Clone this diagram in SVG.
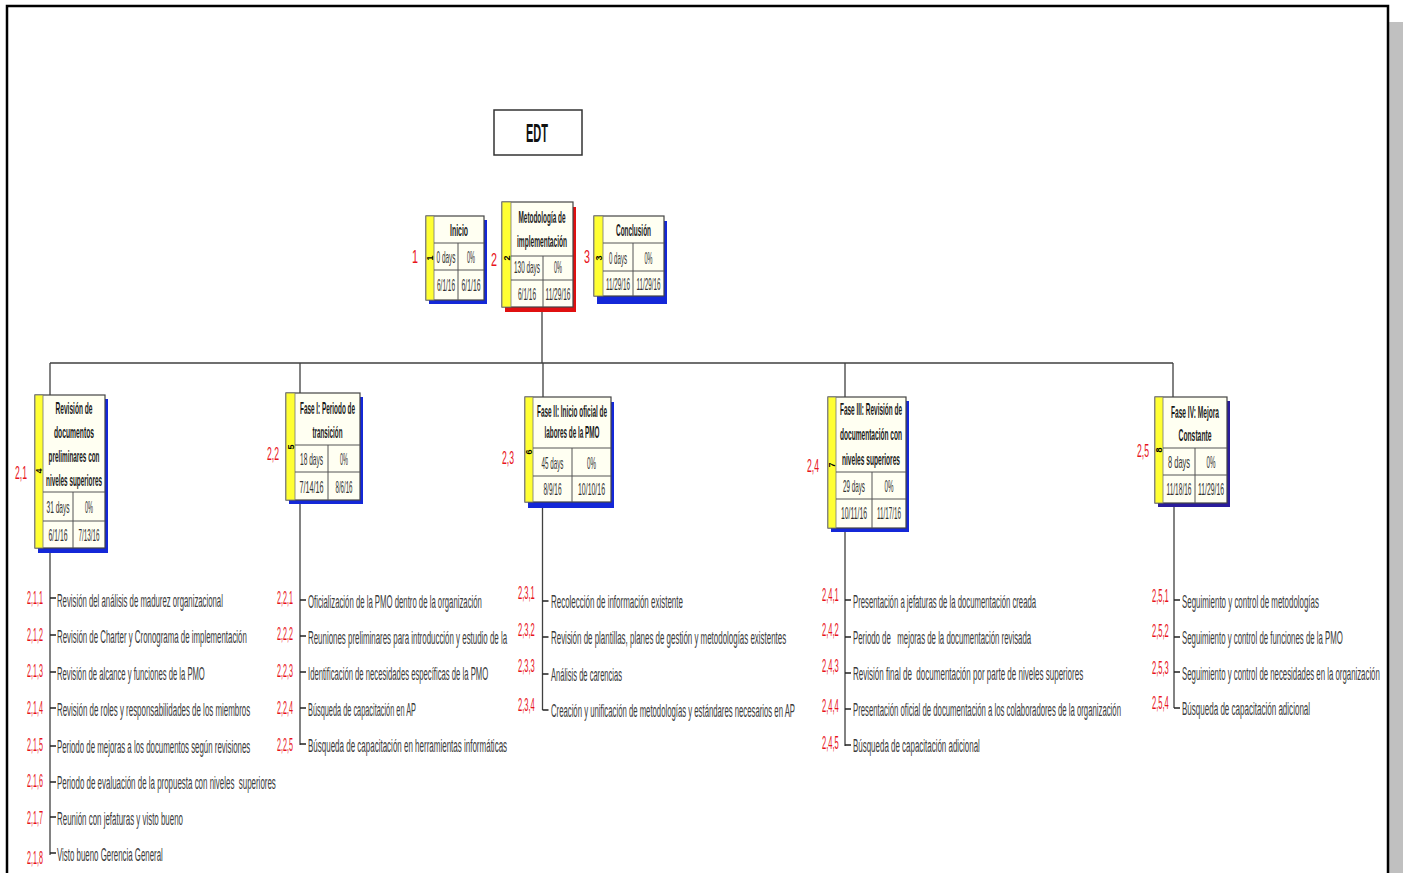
<svg xmlns="http://www.w3.org/2000/svg" width="1403" height="873" viewBox="0 0 1403 873">
<style>
text{font-family:"Liberation Sans",Arial,sans-serif}
.t{font-size:16px;font-weight:bold;fill:#1a1a1a;text-anchor:middle}
.v{font-size:16px;fill:#333;text-anchor:middle}
.id{font-size:9px;font-weight:bold;fill:#000;text-anchor:middle}
.num{font-size:19px;fill:#e8141c;text-anchor:middle}
.lab{font-size:19px;fill:#e8141c}
.it{font-size:19px;fill:#3a3a3a}
.box{fill:#fffff2;stroke:#444;stroke-width:1.2}
.cell{fill:none;stroke:#555;stroke-width:1}
.strip{fill:#ffff33;stroke:#777;stroke-width:0.8}
.sh{fill:#1428d8}
.con{stroke:#404040;stroke-width:1.3;fill:none}
.tick{stroke:#222;stroke-width:1.6}
</style>
<rect x="0" y="0" width="1403" height="873" fill="#fff"/>
<rect x="1389" y="22" width="14" height="851" fill="#c0c0c0"/>
<path d="M7,880 V6 H1388 V880" fill="none" stroke="#000" stroke-width="2.5"/>

<g id="edt">
<rect x="494" y="110" width="88" height="45" fill="#fff" stroke="#333" stroke-width="1.5"/>
<text transform="translate(537,142) scale(0.5,1)" style="font-size:26px;font-weight:bold;fill:#111;text-anchor:middle" textLength="44" lengthAdjust="spacingAndGlyphs">EDT</text>
</g>

<g id="connectors">
<path class="con" d="M542,312 V363 M50,363 H1173 M50,363 V395 M300,363 V393 M543,363 V397 M845,363 V397 M1173,363 V397"/>
<path class="con" d="M50,552 V855 M300,504 V745 M542.5,507 V710 M845,532 V746 M1174,507 V708"/>
<path class="tick" d="M50,598 h6 M50,635 h6 M50,672 h6 M50,708 h6 M50,746 h6 M50,782 h6 M50,817 h6 M50,853 h6"/>
<path class="tick" d="M300,600 h6 M300,636 h6 M300,672 h6 M300,708 h6 M300,744 h6"/>
<path class="tick" d="M542.5,601 h6 M542.5,637 h6 M542.5,674 h6 M542.5,710 h6"/>
<path class="tick" d="M845,600 h6 M845,637 h6 M845,673 h6 M845,709 h6 M845,745 h6"/>
<path class="tick" d="M1174,600 h6 M1174,637 h6 M1174,672 h6 M1174,708 h6"/>
</g>

<g id="n1">
<rect class="sh" x="429" y="220" width="58" height="84"/>
<rect class="box" x="426" y="216" width="58" height="84"/>
<rect class="strip" x="426" y="216" width="8" height="84"/>
<path class="cell" d="M434,243 H484 M434,270 H484 M458,243 V300"/>
<text class="t" transform="translate(459,236) scale(0.5,1)" textLength="36" lengthAdjust="spacingAndGlyphs">Inicio</text>
<text class="v" transform="translate(446,263) scale(0.5,1)" textLength="38" lengthAdjust="spacingAndGlyphs">0 days</text>
<text class="v" transform="translate(471,263) scale(0.5,1)" textLength="16" lengthAdjust="spacingAndGlyphs">0%</text>
<text class="v" transform="translate(446,291) scale(0.5,1)" textLength="36" lengthAdjust="spacingAndGlyphs">6/1/16</text>
<text class="v" transform="translate(471,291) scale(0.5,1)" textLength="38" lengthAdjust="spacingAndGlyphs">6/1/16</text>
<text class="id" transform="translate(433,258) rotate(-90)">1</text>
<text class="num" transform="translate(415,263) scale(0.5,1)" textLength="12" lengthAdjust="spacingAndGlyphs">1</text>
</g>

<g id="n2">
<rect x="505" y="207" width="71" height="105" fill="#e01010"/>
<rect class="box" x="502" y="202" width="71" height="105"/>
<rect class="strip" x="502" y="202" width="9" height="105"/>
<path class="cell" d="M511,256 H573 M511,280 H573 M543,256 V307"/>
<text class="t" transform="translate(542,223) scale(0.5,1)" textLength="94" lengthAdjust="spacingAndGlyphs">Metodología de</text>
<text class="t" transform="translate(542,247) scale(0.5,1)" textLength="100" lengthAdjust="spacingAndGlyphs">implementación</text>
<text class="v" transform="translate(527,273) scale(0.5,1)" textLength="52" lengthAdjust="spacingAndGlyphs">130 days</text>
<text class="v" transform="translate(558,273) scale(0.5,1)" textLength="16" lengthAdjust="spacingAndGlyphs">0%</text>
<text class="v" transform="translate(527,300) scale(0.5,1)" textLength="36" lengthAdjust="spacingAndGlyphs">6/1/16</text>
<text class="v" transform="translate(558,300) scale(0.5,1)" textLength="50" lengthAdjust="spacingAndGlyphs">11/29/16</text>
<text class="id" transform="translate(509.5,258) rotate(-90)">2</text>
<text class="num" transform="translate(494,266) scale(0.5,1)" textLength="12" lengthAdjust="spacingAndGlyphs">2</text>
</g>

<g id="n3">
<rect class="sh" x="597" y="221" width="70" height="83"/>
<rect class="box" x="594" y="216" width="70" height="80"/>
<rect class="strip" x="594" y="216" width="9" height="80"/>
<path class="cell" d="M603,243 H664 M603,271 H664 M633,243 V296"/>
<text class="t" transform="translate(633.5,236) scale(0.5,1)" textLength="70" lengthAdjust="spacingAndGlyphs">Conclusión</text>
<text class="v" transform="translate(618,264) scale(0.5,1)" textLength="36" lengthAdjust="spacingAndGlyphs">0 days</text>
<text class="v" transform="translate(648.5,264) scale(0.5,1)" textLength="16" lengthAdjust="spacingAndGlyphs">0%</text>
<text class="v" transform="translate(618,290) scale(0.5,1)" textLength="48" lengthAdjust="spacingAndGlyphs">11/29/16</text>
<text class="v" transform="translate(648.5,290) scale(0.5,1)" textLength="48" lengthAdjust="spacingAndGlyphs">11/29/16</text>
<text class="id" transform="translate(601.5,258) rotate(-90)">3</text>
<text class="num" transform="translate(587,263) scale(0.5,1)" textLength="12" lengthAdjust="spacingAndGlyphs">3</text>
</g>

<g id="n21">
<rect class="sh" x="38" y="399" width="70" height="154"/>
<rect class="box" x="35" y="395" width="70" height="153"/>
<rect class="strip" x="35" y="395" width="8" height="153"/>
<path class="cell" d="M43,492 H105 M43,521 H105 M73,492 V548"/>
<text class="t" transform="translate(74,414) scale(0.5,1)" textLength="74" lengthAdjust="spacingAndGlyphs">Revisión de</text>
<text class="t" transform="translate(74,438) scale(0.5,1)" textLength="80" lengthAdjust="spacingAndGlyphs">documentos</text>
<text class="t" transform="translate(74,462) scale(0.5,1)" textLength="102" lengthAdjust="spacingAndGlyphs">preliminares con</text>
<text class="t" transform="translate(74,486) scale(0.5,1)" textLength="112" lengthAdjust="spacingAndGlyphs">niveles superiores</text>
<text class="v" transform="translate(58,513) scale(0.5,1)" textLength="46" lengthAdjust="spacingAndGlyphs">31 days</text>
<text class="v" transform="translate(89,513) scale(0.5,1)" textLength="16" lengthAdjust="spacingAndGlyphs">0%</text>
<text class="v" transform="translate(58,541) scale(0.5,1)" textLength="38" lengthAdjust="spacingAndGlyphs">6/1/16</text>
<text class="v" transform="translate(89,541) scale(0.5,1)" textLength="42" lengthAdjust="spacingAndGlyphs">7/13/16</text>
<text class="id" transform="translate(42,471) rotate(-90)">4</text>
<text class="num" transform="translate(21,479) scale(0.5,1)" textLength="24" lengthAdjust="spacingAndGlyphs">2,1</text>
</g>

<g id="n22">
<rect class="sh" x="289" y="397" width="74" height="107"/>
<rect class="box" x="286" y="393" width="74" height="107"/>
<rect class="strip" x="286" y="393" width="9" height="107"/>
<path class="cell" d="M295,445 H360 M295,472 H360 M328,445 V500"/>
<text class="t" transform="translate(327.5,414) scale(0.5,1)" textLength="110" lengthAdjust="spacingAndGlyphs">Fase I: Periodo de</text>
<text class="t" transform="translate(327.5,438) scale(0.5,1)" textLength="60" lengthAdjust="spacingAndGlyphs">transición</text>
<text class="v" transform="translate(311.5,465) scale(0.5,1)" textLength="46" lengthAdjust="spacingAndGlyphs">18 days</text>
<text class="v" transform="translate(344,465) scale(0.5,1)" textLength="16" lengthAdjust="spacingAndGlyphs">0%</text>
<text class="v" transform="translate(311.5,493) scale(0.5,1)" textLength="48" lengthAdjust="spacingAndGlyphs">7/14/16</text>
<text class="v" transform="translate(344,493) scale(0.5,1)" textLength="34" lengthAdjust="spacingAndGlyphs">8/6/16</text>
<text class="id" transform="translate(293.5,447) rotate(-90)">5</text>
<text class="num" transform="translate(273,460) scale(0.5,1)" textLength="24" lengthAdjust="spacingAndGlyphs">2,2</text>
</g>

<g id="n23">
<rect class="sh" x="528" y="402" width="86" height="106"/>
<rect class="box" x="525" y="397" width="86" height="105"/>
<rect class="strip" x="525" y="397" width="8" height="105"/>
<path class="cell" d="M533,448 H611 M533,476 H611 M572,448 V502"/>
<text class="t" transform="translate(572,417) scale(0.5,1)" textLength="140" lengthAdjust="spacingAndGlyphs">Fase II: Inicio oficial de</text>
<text class="t" transform="translate(572,438) scale(0.5,1)" textLength="110" lengthAdjust="spacingAndGlyphs">labores de la PMO</text>
<text class="v" transform="translate(552.5,469) scale(0.5,1)" textLength="44" lengthAdjust="spacingAndGlyphs">45 days</text>
<text class="v" transform="translate(591.5,469) scale(0.5,1)" textLength="18" lengthAdjust="spacingAndGlyphs">0%</text>
<text class="v" transform="translate(552.5,495) scale(0.5,1)" textLength="36" lengthAdjust="spacingAndGlyphs">8/9/16</text>
<text class="v" transform="translate(591.5,495) scale(0.5,1)" textLength="54" lengthAdjust="spacingAndGlyphs">10/10/16</text>
<text class="id" transform="translate(532,452) rotate(-90)">6</text>
<text class="num" transform="translate(508,464) scale(0.5,1)" textLength="24" lengthAdjust="spacingAndGlyphs">2,3</text>
</g>

<g id="n24">
<rect class="sh" x="831" y="401" width="78" height="131"/>
<rect class="box" x="828" y="397" width="78" height="131"/>
<rect class="strip" x="828" y="397" width="8" height="131"/>
<path class="cell" d="M836,472 H906 M836,499 H906 M872,472 V528"/>
<text class="t" transform="translate(871,415) scale(0.5,1)" textLength="124" lengthAdjust="spacingAndGlyphs">Fase III: Revisión de</text>
<text class="t" transform="translate(871,440) scale(0.5,1)" textLength="124" lengthAdjust="spacingAndGlyphs">documentación con</text>
<text class="t" transform="translate(871,465) scale(0.5,1)" textLength="116" lengthAdjust="spacingAndGlyphs">niveles superiores</text>
<text class="v" transform="translate(854,492) scale(0.5,1)" textLength="44" lengthAdjust="spacingAndGlyphs">29 days</text>
<text class="v" transform="translate(889,492) scale(0.5,1)" textLength="18" lengthAdjust="spacingAndGlyphs">0%</text>
<text class="v" transform="translate(854,519) scale(0.5,1)" textLength="52" lengthAdjust="spacingAndGlyphs">10/11/16</text>
<text class="v" transform="translate(889,519) scale(0.5,1)" textLength="48" lengthAdjust="spacingAndGlyphs">11/17/16</text>
<text class="id" transform="translate(835,465) rotate(-90)">7</text>
<text class="num" transform="translate(813,472) scale(0.5,1)" textLength="24" lengthAdjust="spacingAndGlyphs">2,4</text>
</g>

<g id="n25">
<rect x="1158" y="401" width="72" height="106" fill="#2a1c9c"/>
<rect class="box" x="1155" y="397" width="72" height="106"/>
<rect class="strip" x="1155" y="397" width="8" height="106"/>
<path class="cell" d="M1163,448 H1227 M1163,475 H1227 M1195,448 V503"/>
<text class="t" transform="translate(1195,418) scale(0.5,1)" textLength="96" lengthAdjust="spacingAndGlyphs">Fase IV: Mejora</text>
<text class="t" transform="translate(1195,441) scale(0.5,1)" textLength="66" lengthAdjust="spacingAndGlyphs">Constante</text>
<text class="v" transform="translate(1179,468) scale(0.5,1)" textLength="44" lengthAdjust="spacingAndGlyphs">8 days</text>
<text class="v" transform="translate(1211,468) scale(0.5,1)" textLength="18" lengthAdjust="spacingAndGlyphs">0%</text>
<text class="v" transform="translate(1179,495) scale(0.5,1)" textLength="50" lengthAdjust="spacingAndGlyphs">11/18/16</text>
<text class="v" transform="translate(1211,495) scale(0.5,1)" textLength="52" lengthAdjust="spacingAndGlyphs">11/29/16</text>
<text class="id" transform="translate(1162,450) rotate(-90)">8</text>
<text class="num" transform="translate(1143,457) scale(0.5,1)" textLength="24" lengthAdjust="spacingAndGlyphs">2,5</text>
</g>

<g id="list21">
<g transform="translate(27,0) scale(0.42,1)">
<text class="lab" x="0" y="604" textLength="38" lengthAdjust="spacingAndGlyphs">2,1,1</text>
<text class="lab" x="0" y="641" textLength="38" lengthAdjust="spacingAndGlyphs">2,1,2</text>
<text class="lab" x="0" y="677" textLength="38" lengthAdjust="spacingAndGlyphs">2,1,3</text>
<text class="lab" x="0" y="714" textLength="38" lengthAdjust="spacingAndGlyphs">2,1,4</text>
<text class="lab" x="0" y="751" textLength="38" lengthAdjust="spacingAndGlyphs">2,1,5</text>
<text class="lab" x="0" y="787" textLength="38" lengthAdjust="spacingAndGlyphs">2,1,6</text>
<text class="lab" x="0" y="824" textLength="38" lengthAdjust="spacingAndGlyphs">2,1,7</text>
<text class="lab" x="0" y="864" textLength="38" lengthAdjust="spacingAndGlyphs">2,1,8</text>
</g>
<g transform="translate(57,0) scale(0.42,1)">
<text class="it" x="0" y="607" textLength="395" lengthAdjust="spacingAndGlyphs">Revisión del análisis de madurez organizacional</text>
<text class="it" x="0" y="643" textLength="452" lengthAdjust="spacingAndGlyphs">Revisión de Charter y Cronograma de implementación</text>
<text class="it" x="0" y="680" textLength="352" lengthAdjust="spacingAndGlyphs">Revisión de alcance y funciones de la PMO</text>
<text class="it" x="0" y="716" textLength="460" lengthAdjust="spacingAndGlyphs">Revisión de roles y responsabilidades de los miembros</text>
<text class="it" x="0" y="753" textLength="460" lengthAdjust="spacingAndGlyphs">Periodo de mejoras a los documentos según revisiones</text>
<text class="it" x="0" y="789" textLength="521" lengthAdjust="spacingAndGlyphs" xml:space="preserve">Periodo de evaluación de la propuesta con niveles  superiores</text>
<text class="it" x="0" y="825" textLength="300" lengthAdjust="spacingAndGlyphs">Reunión con jefaturas y visto bueno</text>
<text class="it" x="0" y="861" textLength="252" lengthAdjust="spacingAndGlyphs">Visto bueno Gerencia General</text>
</g>
</g>

<g id="list22">
<g transform="translate(277,0) scale(0.42,1)">
<text class="lab" x="0" y="604" textLength="38" lengthAdjust="spacingAndGlyphs">2,2,1</text>
<text class="lab" x="0" y="640" textLength="38" lengthAdjust="spacingAndGlyphs">2,2,2</text>
<text class="lab" x="0" y="677" textLength="38" lengthAdjust="spacingAndGlyphs">2,2,3</text>
<text class="lab" x="0" y="714" textLength="38" lengthAdjust="spacingAndGlyphs">2,2,4</text>
<text class="lab" x="0" y="751" textLength="38" lengthAdjust="spacingAndGlyphs">2,2,5</text>
</g>
<g transform="translate(308,0) scale(0.42,1)">
<text class="it" x="0" y="608" textLength="414" lengthAdjust="spacingAndGlyphs">Oficialización de la PMO dentro de la organización</text>
<text class="it" x="0" y="644" textLength="474" lengthAdjust="spacingAndGlyphs">Reuniones preliminares para introducción y estudio de la</text>
<text class="it" x="0" y="680" textLength="429" lengthAdjust="spacingAndGlyphs">Identificación de necesidades específicas de la PMO</text>
<text class="it" x="0" y="716" textLength="257" lengthAdjust="spacingAndGlyphs">Búsqueda de capacitación en AP</text>
<text class="it" x="0" y="752" textLength="474" lengthAdjust="spacingAndGlyphs">Búsqueda de capacitación en herramientas informáticas</text>
</g>
</g>

<g id="list23">
<g transform="translate(518,0) scale(0.42,1)">
<text class="lab" x="0" y="599" textLength="40" lengthAdjust="spacingAndGlyphs">2,3,1</text>
<text class="lab" x="0" y="636" textLength="40" lengthAdjust="spacingAndGlyphs">2,3,2</text>
<text class="lab" x="0" y="672" textLength="40" lengthAdjust="spacingAndGlyphs">2,3,3</text>
<text class="lab" x="0" y="711" textLength="40" lengthAdjust="spacingAndGlyphs">2,3,4</text>
</g>
<g transform="translate(551,0) scale(0.42,1)">
<text class="it" x="0" y="608" textLength="314" lengthAdjust="spacingAndGlyphs">Recolección de información existente</text>
<text class="it" x="0" y="644" textLength="560" lengthAdjust="spacingAndGlyphs">Revisión de plantillas, planes de gestión y metodologías existentes</text>
<text class="it" x="0" y="681" textLength="169" lengthAdjust="spacingAndGlyphs">Análisis de carencias</text>
<text class="it" x="0" y="717" textLength="581" lengthAdjust="spacingAndGlyphs">Creación y unificación de metodologías y estándares necesarios en AP</text>
</g>
</g>

<g id="list24">
<g transform="translate(822,0) scale(0.42,1)">
<text class="lab" x="0" y="601" textLength="40" lengthAdjust="spacingAndGlyphs">2,4,1</text>
<text class="lab" x="0" y="636" textLength="40" lengthAdjust="spacingAndGlyphs">2,4,2</text>
<text class="lab" x="0" y="672" textLength="40" lengthAdjust="spacingAndGlyphs">2,4,3</text>
<text class="lab" x="0" y="712" textLength="40" lengthAdjust="spacingAndGlyphs">2,4,4</text>
<text class="lab" x="0" y="749" textLength="40" lengthAdjust="spacingAndGlyphs">2,4,5</text>
</g>
<g transform="translate(853,0) scale(0.42,1)">
<text class="it" x="0" y="608" textLength="436" lengthAdjust="spacingAndGlyphs">Presentación a jefaturas de la documentación creada</text>
<text class="it" x="0" y="644" textLength="424" lengthAdjust="spacingAndGlyphs" xml:space="preserve">Periodo de   mejoras de la documentación revisada</text>
<text class="it" x="0" y="680" textLength="548" lengthAdjust="spacingAndGlyphs" xml:space="preserve">Revisión final de  documentación por parte de niveles superiores</text>
<text class="it" x="0" y="716" textLength="638" lengthAdjust="spacingAndGlyphs">Presentación oficial de documentación a los colaboradores de la organización</text>
<text class="it" x="0" y="752" textLength="302" lengthAdjust="spacingAndGlyphs">Búsqueda de capacitación adicional</text>
</g>
</g>

<g id="list25">
<g transform="translate(1152,0) scale(0.42,1)">
<text class="lab" x="0" y="602" textLength="40" lengthAdjust="spacingAndGlyphs">2,5,1</text>
<text class="lab" x="0" y="637" textLength="40" lengthAdjust="spacingAndGlyphs">2,5,2</text>
<text class="lab" x="0" y="674" textLength="40" lengthAdjust="spacingAndGlyphs">2,5,3</text>
<text class="lab" x="0" y="709" textLength="40" lengthAdjust="spacingAndGlyphs">2,5,4</text>
</g>
<g transform="translate(1182,0) scale(0.42,1)">
<text class="it" x="0" y="608" textLength="326" lengthAdjust="spacingAndGlyphs">Seguimiento y control de metodologías</text>
<text class="it" x="0" y="644" textLength="383" lengthAdjust="spacingAndGlyphs">Seguimiento y control de funciones de la PMO</text>
<text class="it" x="0" y="680" textLength="471" lengthAdjust="spacingAndGlyphs">Seguimiento y control de necesidades en la organización</text>
<text class="it" x="0" y="715" textLength="305" lengthAdjust="spacingAndGlyphs">Búsqueda de capacitación adicional</text>
</g>
</g>
</svg>
